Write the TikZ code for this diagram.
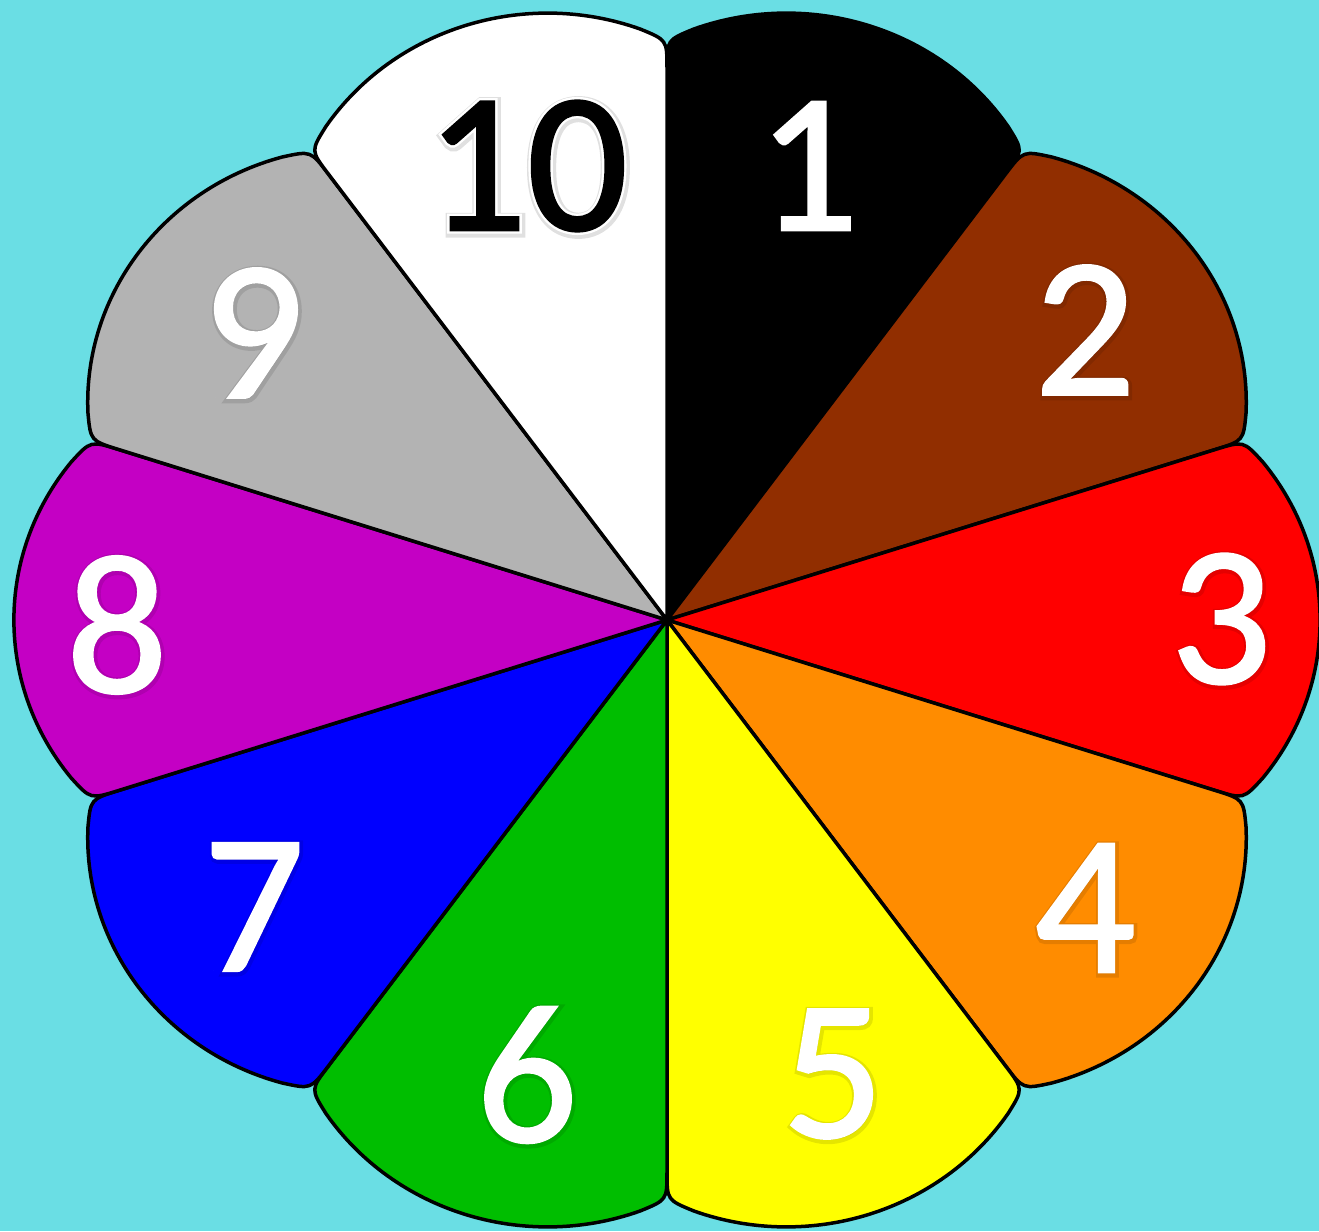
\documentclass[tikz,border=0pt]{standalone}
\usepackage{fontspec}
\setmainfont{Carlito}
\newfontfamily\numfont{Carlito}[FakeBold=1.4]
\newfontfamily\haloFont{Carlito}[FakeBold=4.2]
\newfontfamily\ringFont{Carlito}[FakeBold=3.8]
\newfontfamily\ringHalo{Carlito}[FakeBold=6.2]
\usetikzlibrary{calc}
\definecolor{bg}{RGB}{106,222,228}
\definecolor{p1}{RGB}{0,0,0}
\definecolor{p2}{RGB}{145,46,0}
\definecolor{p3}{RGB}{255,0,0}
\definecolor{p4}{RGB}{255,140,0}
\definecolor{p5}{RGB}{255,255,0}
\definecolor{p6}{RGB}{0,190,0}
\definecolor{p7}{RGB}{0,0,255}
\definecolor{p8}{RGB}{196,0,196}
\definecolor{p9}{RGB}{179,179,179}
\definecolor{p10}{RGB}{255,255,255}
\begin{document}
\begin{tikzpicture}[x=1pt,y=1pt,
  petal/.style={draw=black,line width=3.5pt,line join=round},
  num/.style={text=white,font=\fontsize{199}{200}\numfont,inner sep=0pt},
  halo/.style={text=black,opacity=0.1,font=\fontsize{199}{200}\haloFont,inner sep=0pt},
  ring/.style={text=white,font=\fontsize{199}{200}\ringFont,inner sep=0pt},
  ringhalo/.style={text=black,opacity=0.12,font=\fontsize{199}{200}\ringHalo,inner sep=0pt}]
\fill[bg] (-667,-611) rectangle (652,620);
\useasboundingbox (-667,-611) rectangle (652,620);
\begin{scope}[xscale=1.045]
\foreach \m/\c in {72/p1,36/p2,0/p3,-36/p4,-72/p5,-108/p6,-144/p7,-180/p8,-216/p9,-252/p10}{
  \filldraw[petal,fill=\c] (0,0) -- (\m+18:552)
    .. controls (\m+18:580) .. ($(\m:370)+(\m+38.3:255)$)
    arc[start angle=\m+38.3,end angle=\m-38.3,radius=255]
    .. controls (\m-18:580) .. (\m-18:552) -- cycle;
}
\end{scope}
% soft halos behind the white numbers
\foreach \i/\x/\y in {1/141/454,2/418/290,3/554/1,4/418/-288,5/166/-454,6/-140/-455,7/-413/-287,8/-550/-5,9/-414/287}{
  \node[halo] (s\i) at (\x+1,\y-1.5) {\i};
}
% labels
\node[num] (l1) at (141,454) {1};
\node[num] (l2) at (418,290) {2};
\node[num] (l3) at (554,1) {3};
\node[num] (l4) at (418,-288) {4};
\node[num] (l5) at (166,-454) {5};
\node[num] (l6) at (-140,-455) {6};
\node[num] (l7) at (-413,-287) {7};
\node[num] (l8) at (-550,-5) {8};
\node[num] (l9) at (-414,287) {9};
\node[ringhalo] (s10) at (-139,452.5) {10};
\node[ring] (o10) at (-140,454) {10};
\node[num,text=black] (l10) at (-140,454) {10};
\end{tikzpicture}
\end{document}
